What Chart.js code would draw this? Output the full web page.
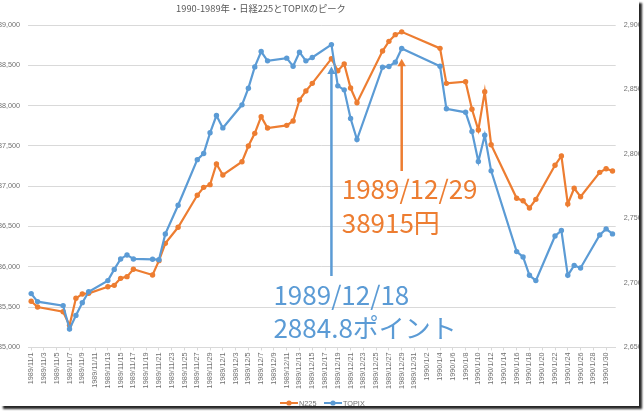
<!DOCTYPE html>
<html><head><meta charset="utf-8">
<script src="https://cdn.jsdelivr.net/npm/chart.js@4.4.0/dist/chart.umd.min.js"></script>
<style>
html,body{margin:0;padding:0;background:#fff;}
#wrap{position:absolute;left:0;top:0;width:639px;height:406px;background:#fff;box-shadow:3px 3px 2px rgba(0,0,0,0.85);}
canvas{display:block;}
</style></head><body>
<div id="wrap"><canvas id="c" width="639" height="406"></canvas></div>
<script>
const titleText = '1990-1989年・日経225とTOPIXのピーク';
const seriesNames = ['N225', 'TOPIX'];
const tradeDates = ['1989/11/1','1989/11/2','1989/11/6','1989/11/7','1989/11/8','1989/11/9','1989/11/10','1989/11/13','1989/11/14','1989/11/15','1989/11/16','1989/11/17','1989/11/20','1989/11/21','1989/11/22','1989/11/24','1989/11/27','1989/11/28','1989/11/29','1989/11/30',
'1989/12/1','1989/12/4','1989/12/5','1989/12/6','1989/12/7','1989/12/8','1989/12/11','1989/12/12','1989/12/13','1989/12/14','1989/12/15','1989/12/18','1989/12/19','1989/12/20','1989/12/21','1989/12/22','1989/12/26','1989/12/27','1989/12/28','1989/12/29',
'1990/1/4','1990/1/5','1990/1/8','1990/1/9','1990/1/10','1990/1/11','1990/1/12','1990/1/16','1990/1/17','1990/1/18','1990/1/19','1990/1/22','1990/1/23','1990/1/24','1990/1/25','1990/1/26','1990/1/29','1990/1/30','1990/1/31'];
const n225 = [35572,35501,35443,35274,35609,35663,35671,35753,35770,35857,35878,35969,35898,36076,36291,36490,36887,36986,37019,37275,
37139,37304,37499,37656,37863,37722,37755,37809,38070,38181,38276,38582,38433,38516,38218,38036,38677,38797,38880,38915,
38710,38276,38297,37954,37697,38173,37515,36850,36820,36730,36837,37259,37375,36779,36974,36870,37172,37217,37189];
const topix = [2691.7,2685.5,2682.4,2664.3,2674.8,2684.7,2693.2,2701.8,2710.5,2718.6,2721.7,2718.6,2718.3,2718.0,2738.0,2760.2,2795.6,2800.3,2816.4,2829.8,
2820.2,2838.1,2851.0,2867.5,2879.4,2872.2,2874.3,2868.0,2878.9,2872.2,2874.8,2884.8,2852.8,2849.7,2827.5,2811.2,2867.3,2867.8,2871.2,2881.8,
2868.0,2835.0,2832.3,2817.4,2794.1,2814.5,2786.9,2724.3,2720.1,2705.9,2701.8,2736.4,2740.6,2705.9,2713.6,2711.6,2737.2,2741.9,2738.0];
const leftAxis = {min: 35000, max: 39000, step: 500};
const rightAxis = {min: 2650, max: 2900, step: 50};
const axisFirstDay = [1989, 11, 1];
const axisLastDay = [1990, 1, 31];
const peakTopix = {date: '1989/12/18', value: 2884.8, lines: ['1989/12/18', '2884.8ポイント']};
const peakN225 = {date: '1989/12/29', value: 38915, lines: ['1989/12/29', '38915円']};

const ORANGE = '#ED7D31', BLUE = '#5B9BD5', GRID = '#d9d9d9', TXT = '#707070';

// every calendar day of the date axis
const dayLabels = [];
for (let d = new Date(axisFirstDay[0], axisFirstDay[1]-1, axisFirstDay[2]);
     d <= new Date(axisLastDay[0], axisLastDay[1]-1, axisLastDay[2]);
     d.setDate(d.getDate()+1)) {
  dayLabels.push(d.getFullYear() + '/' + (d.getMonth()+1) + '/' + d.getDate());
}
function onDays(vals){ return dayLabels.map(l => { const i = tradeDates.indexOf(l); return i < 0 ? null : vals[i]; }); }

const annotate = {
  id: 'annotate',
  afterDraw(chart) {
    const ctx = chart.ctx, xs = chart.scales.x, yl = chart.scales.y, yr = chart.scales.y1;
    ctx.save();
    // title
    ctx.font = '9.3px "Noto Sans CJK JP"';
    ctx.fillStyle = '#595959'; ctx.textAlign = 'center'; ctx.textBaseline = 'middle';
    ctx.fillText(titleText, 261, 8);
    // arrows
    function arrow(px, tip, bottom, color) {
      ctx.strokeStyle = color; ctx.lineWidth = 2.5;
      ctx.beginPath(); ctx.moveTo(px, bottom); ctx.lineTo(px, tip + 6); ctx.stroke();
      ctx.fillStyle = color;
      ctx.beginPath(); ctx.moveTo(px, tip); ctx.lineTo(px - 4.2, tip + 7.5); ctx.lineTo(px + 4.2, tip + 7.5); ctx.closePath(); ctx.fill();
    }
    const bx = xs.getPixelForValue(dayLabels.indexOf(peakTopix.date));
    const ox = xs.getPixelForValue(dayLabels.indexOf(peakN225.date));
    arrow(bx, yr.getPixelForValue(peakTopix.value) + 22, 276, BLUE);
    arrow(ox, yl.getPixelForValue(peakN225.value) + 27, 171, ORANGE);
    ctx.textAlign = 'left'; ctx.textBaseline = 'alphabetic';
    ctx.font = '26px "Noto Sans CJK JP"';
    ctx.fillStyle = BLUE;
    ctx.fillText(peakTopix.lines[0], bx - 58, 305);
    ctx.fillText(peakTopix.lines[1], bx - 58, 338);
    ctx.fillStyle = ORANGE;
    ctx.fillText(peakN225.lines[0], ox - 60, 199);
    ctx.fillText(peakN225.lines[1], ox - 60, 233);
    // legend
    function legendItem(x0, color, name) {
      ctx.strokeStyle = color; ctx.lineWidth = 2;
      ctx.beginPath(); ctx.moveTo(x0, 403); ctx.lineTo(x0 + 18, 403); ctx.stroke();
      ctx.fillStyle = color; ctx.beginPath(); ctx.arc(x0 + 9, 403, 2.6, 0, Math.PI*2); ctx.fill();
      ctx.fillStyle = TXT; ctx.font = '7.3px "Liberation Sans"'; ctx.textBaseline = 'middle';
      ctx.fillText(name, x0 + 19, 403.5);
    }
    legendItem(280, ORANGE, seriesNames[0]);
    legendItem(324, BLUE, seriesNames[1]);
    ctx.restore();
  }
};

new Chart(document.getElementById('c'), {
  type: 'line',
  data: {
    labels: dayLabels,
    datasets: [
      {label: seriesNames[0], data: onDays(n225), yAxisID: 'y', borderColor: ORANGE, backgroundColor: ORANGE,
       borderWidth: 2.2, pointRadius: 2.7, pointBorderWidth: 0, pointBackgroundColor: ORANGE, spanGaps: true, tension: 0, order: 1},
      {label: seriesNames[1], data: onDays(topix), yAxisID: 'y1', borderColor: BLUE, backgroundColor: BLUE,
       borderWidth: 2.2, pointRadius: 2.7, pointBorderWidth: 0, pointBackgroundColor: BLUE, spanGaps: true, tension: 0, order: 0}
    ]
  },
  options: {
    responsive: false, animation: false,
    layout: {padding: {top: 25, bottom: 0, left: 0, right: 0}},
    plugins: {legend: {display: false}, title: {display: false}, tooltip: {enabled: false}},
    scales: {
      x: {
        type: 'category', offset: true,
        grid: {display: true, drawOnChartArea: false, tickLength: 3, offset: false,
               color: (c) => (c.index % 2 === 0 ? GRID : 'rgba(0,0,0,0)')},
        border: {display: true, color: GRID, width: 1},
        ticks: {autoSkip: false, minRotation: 90, maxRotation: 90, padding: 2, color: TXT,
                font: {family: 'Liberation Sans', size: 7.3},
                callback: function(v, i) { return i % 2 === 0 ? dayLabels[i] : ''; }},
        afterFit: (s) => { s.height = 58.6; }
      },
      y: {
        position: 'left', min: leftAxis.min, max: leftAxis.max,
        grid: {color: GRID, lineWidth: 1, drawTicks: false},
        border: {display: false},
        ticks: {stepSize: leftAxis.step, padding: 8, color: TXT, font: {family: 'Liberation Sans', size: 7.2}},
        afterFit: (s) => { s.width = 28; }
      },
      y1: {
        position: 'right', min: rightAxis.min, max: rightAxis.max,
        grid: {display: false, drawOnChartArea: false, drawTicks: false},
        border: {display: false},
        ticks: {stepSize: rightAxis.step, padding: 8, color: TXT, font: {family: 'Liberation Sans', size: 7.2}},
        afterFit: (s) => { s.width = 23.3; }
      }
    }
  },
  plugins: [annotate]
});
</script>
</body></html>
